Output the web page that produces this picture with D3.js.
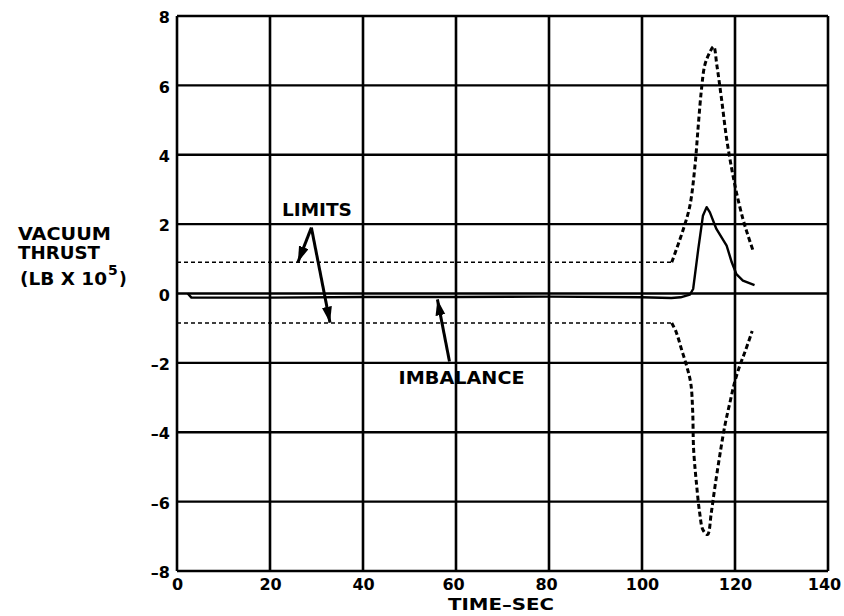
<!DOCTYPE html>
<html>
<head>
<meta charset="utf-8">
<script src="https://cdn.jsdelivr.net/npm/d3@7"></script>
<style>
  html, body { margin: 0; padding: 0; background: #fff; }
  svg { display: block; }
  text { font-family: "DejaVu Sans", "Liberation Sans", sans-serif; font-weight: bold; fill: #000; }
</style>
</head>
<body>
<svg id="chart" width="844" height="616"></svg>
<script>
// ---- data ----
const xTicks = [0, 20, 40, 60, 80, 100, 120, 140];
const yTicks = [-8, -6, -4, -2, 0, 2, 4, 6, 8];
const yTickLabels = ["–8", "–6", "–4", "–2", "0", "2", "4", "6", "8"];

// flat limit lines before the event
const limitFlatTime = [0, 106.4];
const upperLimitFlat = [0.9, 0.9];
const lowerLimitFlat = [-0.85, -0.85];

// upper limit excursion
const upperLimitTime = [106.4, 108.9, 110.3, 111.4, 112.1, 112.8, 113.5, 114.6, 115.4, 116.1, 117.1, 118.2, 119.3, 120.3, 121.7, 122.8, 124.0];
const upperLimitValue = [0.9, 1.86, 2.53, 3.69, 4.84, 5.9, 6.58, 6.96, 7.12, 6.58, 5.61, 4.46, 3.59, 2.92, 2.15, 1.67, 1.19];

// lower limit excursion
const lowerLimitTime = [106.4, 107.4, 108.5, 109.6, 110.5, 110.9, 111.1, 111.7, 112.4, 113.1, 114.1, 114.9, 115.7, 116.7, 117.8, 118.9, 119.9, 121.0, 122.1, 123.7];
const lowerLimitValue = [-0.85, -1.13, -1.61, -2.09, -2.6, -3.4, -4.49, -5.46, -6.32, -6.81, -6.95, -6.32, -5.56, -4.69, -3.82, -3.15, -2.57, -2.09, -1.7, -1.08];

// thrust imbalance
const imbalanceTime = [2.3, 3.1, 20, 40, 60, 80, 100, 106.3, 108.3, 110.3, 111.0, 112.1, 113.1, 113.9, 114.6, 116.0, 118.2, 119.3, 120.3, 121.7, 124.2];
const imbalanceValue = [-0.0, -0.12, -0.12, -0.1, -0.1, -0.09, -0.11, -0.13, -0.11, -0.03, 0.13, 1.28, 2.24, 2.49, 2.34, 1.86, 1.38, 0.9, 0.56, 0.37, 0.24];

// annotations (data coordinates)
const limitsLabel = { text: "LIMITS", t: 30.1, v: 2.42, len: 70 };
const imbalanceLabel = { text: "IMBALANCE", t: 61.2, v: -2.42, len: 126 };
const arrows = [
  { from: [28.9, 1.9], to: [26.0, 0.9] },
  { from: [28.9, 1.9], to: [32.9, -0.84] },
  { from: [58.6, -1.96], to: [56.0, -0.17] }
];

// ---- layout ----
const svg = d3.select("#chart");
const x = d3.scaleLinear().domain([0, 140]).range([177, 828]);
const y = d3.scaleLinear().domain([-8, 8]).range([571, 16]);

// grid
const grid = svg.append("g");
grid.selectAll("line.v").data(xTicks).join("line")
  .attr("x1", d => x(d)).attr("x2", d => x(d))
  .attr("y1", y(8)).attr("y2", y(-8))
  .attr("stroke", "#000").attr("stroke-width", 2.6);
grid.selectAll("line.h").data(yTicks).join("line")
  .attr("y1", d => y(d)).attr("y2", d => y(d))
  .attr("x1", x(0)).attr("x2", x(140))
  .attr("stroke", "#000").attr("stroke-width", 2.3);

// axes (labels only)
const xAxis = d3.axisBottom(x).tickValues(xTicks).tickSize(0).tickPadding(8);
const gx = svg.append("g").attr("transform", `translate(0,${y(-8)})`).call(xAxis);
gx.select(".domain").remove();
gx.selectAll("text").style("font-size", "16px").attr("fill", "#000")
  .attr("dx", d => d === 140 ? "-4" : d === 60 || d === 80 ? "-3" : "0");

const yAxis = d3.axisLeft(y).tickValues(yTicks).tickSize(0).tickPadding(7)
  .tickFormat((d, i) => yTickLabels[i]);
const gy = svg.append("g").attr("transform", `translate(${x(0)},0)`).call(yAxis);
gy.select(".domain").remove();
gy.selectAll("text").style("font-size", "16px").attr("fill", "#000").attr("dy", "0.42em");

// series
const flatLine = d3.line().x(d => x(d[0])).y(d => y(d[1]));
const smoothLine = d3.line().x(d => x(d[0])).y(d => y(d[1])).curve(d3.curveCatmullRom);
const zip = (a, b) => a.map((t, i) => [t, b[i]]);

svg.append("path").datum(zip(limitFlatTime, upperLimitFlat))
  .attr("d", flatLine).attr("fill", "none").attr("stroke", "#000")
  .attr("stroke-width", 1.4).attr("stroke-dasharray", "4 3");
svg.append("path").datum(zip(limitFlatTime, lowerLimitFlat))
  .attr("d", flatLine).attr("fill", "none").attr("stroke", "#000")
  .attr("stroke-width", 1.4).attr("stroke-dasharray", "4 3");

svg.append("path").datum(zip(upperLimitTime, upperLimitValue))
  .attr("d", smoothLine).attr("fill", "none").attr("stroke", "#000")
  .attr("stroke-width", 3).attr("stroke-dasharray", "5 3");
svg.append("path").datum(zip(lowerLimitTime, lowerLimitValue))
  .attr("d", smoothLine).attr("fill", "none").attr("stroke", "#000")
  .attr("stroke-width", 3).attr("stroke-dasharray", "5 3");

svg.append("path").datum(zip(imbalanceTime, imbalanceValue))
  .attr("d", flatLine).attr("fill", "none").attr("stroke", "#000")
  .attr("stroke-width", 2.4).attr("stroke-linejoin", "round");

// arrows
svg.append("defs").append("marker")
  .attr("id", "ah").attr("markerUnits", "userSpaceOnUse")
  .attr("markerWidth", 18).attr("markerHeight", 12)
  .attr("refX", 16).attr("refY", 5).attr("orient", "auto")
  .append("path").attr("d", "M0,0 L16,5 L0,10 Z").attr("fill", "#000");

svg.selectAll("line.arrow").data(arrows).join("line")
  .attr("x1", d => x(d.from[0])).attr("y1", d => y(d.from[1]))
  .attr("x2", d => x(d.to[0])).attr("y2", d => y(d.to[1]))
  .attr("stroke", "#000").attr("stroke-width", 3)
  .attr("marker-end", "url(#ah)");

// annotation labels
[limitsLabel, imbalanceLabel].forEach(l => {
  svg.append("text").attr("x", x(l.t) - l.len / 2).attr("y", y(l.v))
    .attr("dy", "0.36em")
    .attr("textLength", l.len).attr("lengthAdjust", "spacingAndGlyphs")
    .style("font-size", "17px").text(l.text);
});

// y-axis title
const yt = svg.append("g").style("font-size", "17px");
yt.append("text").attr("x", 18).attr("y", 240)
  .attr("textLength", 93).attr("lengthAdjust", "spacingAndGlyphs").text("VACUUM");
yt.append("text").attr("x", 18).attr("y", 259)
  .attr("textLength", 82).attr("lengthAdjust", "spacingAndGlyphs").text("THRUST");
yt.append("text").attr("x", 20).attr("y", 285)
  .attr("textLength", 87).attr("lengthAdjust", "spacingAndGlyphs").text("(LB X 10");
yt.append("text").attr("x", 108).attr("y", 275).style("font-size", "14px").text("5");
yt.append("text").attr("x", 119).attr("y", 285).text(")");

// x-axis title
svg.append("text").attr("x", 501).attr("y", 610).attr("text-anchor", "middle")
  .attr("textLength", 106).attr("lengthAdjust", "spacingAndGlyphs")
  .style("font-size", "16px").text("TIME–SEC");
</script>
</body>
</html>
